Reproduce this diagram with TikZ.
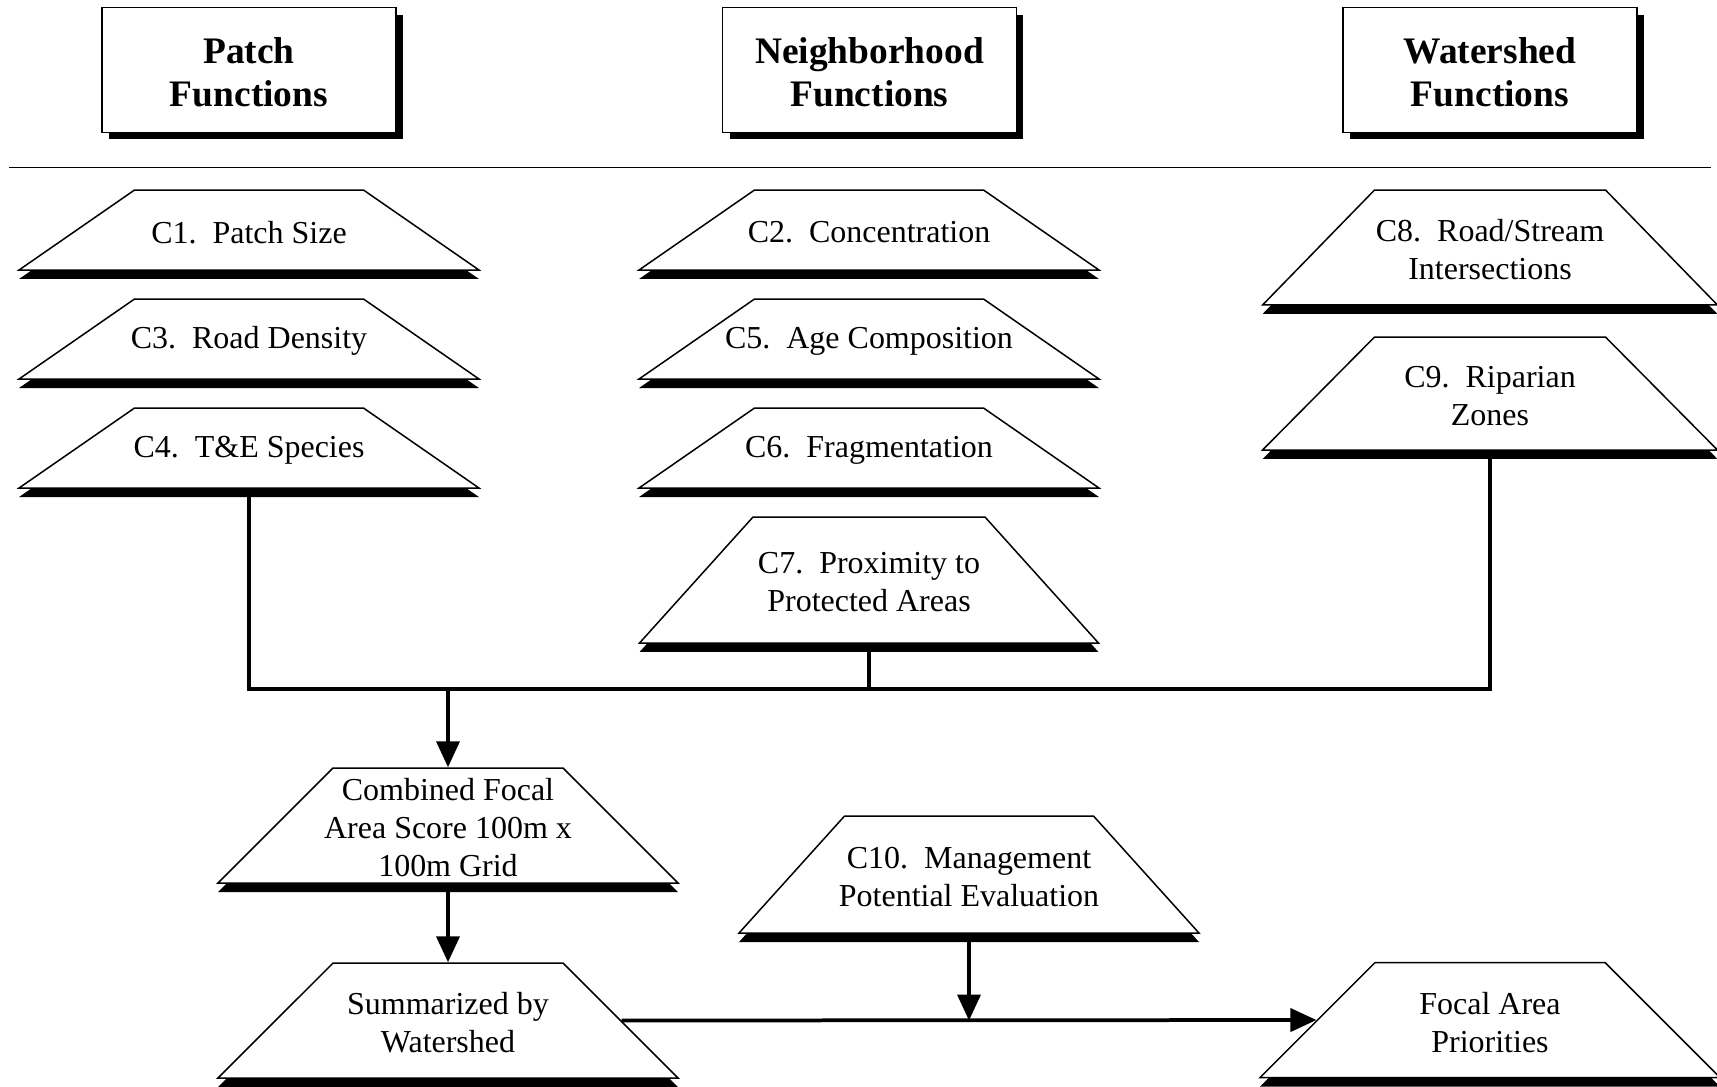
\documentclass[tikz,border=0pt]{standalone}
\usepackage{fontspec}
\setmainfont{Liberation Serif}
\usetikzlibrary{shapes.geometric,shadows,arrows.meta}

\tikzset{
  hdr/.style={draw,fill=white,line width=0.03cm,minimum width=5.88cm,minimum height=2.5cm,
    general shadow={fill=black,shadow xshift=0.14cm,shadow yshift=-0.14cm}},
  head/.style={align=center,inner sep=0pt,yshift=-0.045cm,font=\fontsize{21.3pt}{25pt}\selectfont\bfseries},
  txt/.style={align=center,inner sep=0pt,yshift=-0.045cm,font=\fontsize{18.2pt}{21.5pt}\selectfont},
  crit/.style={trapezium,draw,fill=white,line width=0.03cm,trapezium stretches body,inner xsep=0pt,
    minimum width=9.2cm,general shadow={fill=black,shadow yshift=-0.18cm}},
  low/.style={crit,inner ysep=0.8cm,trapezium angle=34.71},
  tall/.style={crit,inner ysep=1.15cm,trapezium angle=45},
  link/.style={line width=0.075cm},
  feed/.style={link,-{Triangle[length=0.52cm,width=0.46cm]}}
}

\begin{document}
\begin{tikzpicture}[x=0.02cm,y=-0.02cm]
\useasboundingbox (0,0) rectangle (1717,1086);
% headings
\node[hdr,label={[head]center:{Patch\\Functions}}] (patch) at (249,70) {};
\node[hdr,label={[head]center:{Neighborhood\\Functions}}] (neigh) at (869.5,70) {};
\node[hdr,label={[head]center:{Watershed\\Functions}}] (shed) at (1490,70) {};
\draw[line width=0.03cm] (9,167.5) -- (1711,167.5);
% patch column
\node[low,label={[txt]center:{C1.\ \ Patch Size}}] (c1) at (249,230) {};
\node[low,label={[txt]center:{C3.\ \ Road Density}}] (c3) at (249,339) {};
\node[low,label={[txt]center:{C4.\ \ T\&E Species}}] (c4) at (249,448) {};
% neighborhood column
\node[low,label={[txt]center:{C2.\ \ Concentration}}] (c2) at (869,230) {};
\node[low,label={[txt]center:{C5.\ \ Age Composition}}] (c5) at (869,339) {};
\node[low,label={[txt]center:{C6.\ \ Fragmentation}}] (c6) at (869,448) {};
\node[crit,minimum width=9.18cm,inner ysep=1.26cm,trapezium angle=47.99,
  label={[txt]center:{C7.\ \ Proximity to\\Protected Areas}}] (c7) at (869,580) {};
% watershed column
\node[tall,minimum width=9.1cm,trapezium angle=45.76,
  label={[txt]center:{C8.\ \ Road/Stream\\Intersections}}] (c8) at (1490,247.5) {};
\node[tall,minimum width=9.1cm,inner ysep=1.13cm,trapezium angle=45.25,
  label={[txt]center:{C9.\ \ Riparian\\Zones}}] (c9) at (1490,393.5) {};
% results
\node[tall,label={[txt]center:{Combined Focal\\Area Score 100m x\\100m Grid}}] (comb) at (448,825.5) {};
\node[crit,inner ysep=1.17cm,trapezium angle=47.96,
  label={[txt]center:{C10.\ \ Management\\Potential Evaluation}}] (c10) at (969,874.5) {};
\node[tall,label={[txt]center:{Summarized by\\Watershed}}] (summ) at (448,1020.5) {};
\node[tall,label={[txt]center:{Focal Area\\Priorities}}] (focal) at (1490,1020) {};
% connectors
\coordinate (bus) at (448,689);
\draw[link] (c4.south) -- (c4.south |- bus) -- (c9.south |- bus) -- (c9.south);
\draw[link] (c7.south) -- (c7.south |- bus);
\draw[feed] (bus) -- (comb.north);
\draw[feed] (comb.south) -- (summ.north);
\draw[feed] (summ.east) -- (focal.west);
\draw[feed] (c10.south) -- (c10.south |- summ.east);
\end{tikzpicture}
\end{document}
